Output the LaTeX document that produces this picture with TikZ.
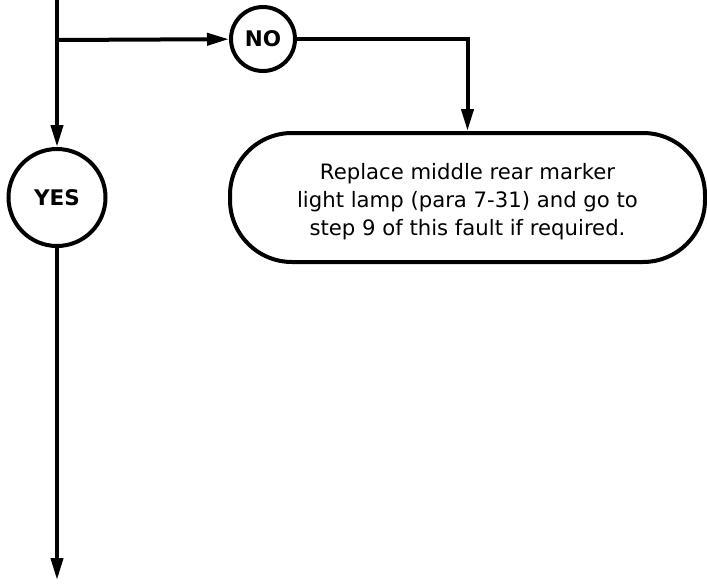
\documentclass[tikz,border=0pt]{standalone}
\usepackage{fontspec}
\setmainfont{DejaVu Sans}
\usetikzlibrary{arrows.meta}
\begin{document}
\begin{tikzpicture}[x=1pt,y=-1pt,
  line/.style={line width=4pt},
  arr/.style={line, -{Triangle[length=22pt,width=12pt]}},
  decision/.style={circle, draw, line width=4pt, inner sep=0pt, font=\fontsize{21.5}{22}\selectfont\bfseries},
  action/.style={draw, line width=4pt, rounded corners=62pt, minimum width=475pt, minimum height=129pt, align=center, inner sep=0pt, font=\fontsize{21.2}{28}\selectfont}]
\useasboundingbox (0,0) rectangle (707,584);
\coordinate (top) at (57,0);
\coordinate (branch) at (57,40);
\coordinate (end) at (57,580);
\node[decision, minimum size=64pt] (no) at (263,39) {NO};
\node[decision, minimum size=97pt] (yes) at (57,197.5) {YES};
\node[action] (box) at (467.5,197.5) {\rule{0pt}{25pt}Replace middle rear marker\\light lamp (para 7-31) and go to\\step 9 of this fault if required.};
\draw[arr] (top) -- (yes);
\draw[arr] (branch) -- (no);
\draw[arr] (no.east) -| (box.north);
\draw[arr] (yes) -- (end);
\end{tikzpicture}
\end{document}
